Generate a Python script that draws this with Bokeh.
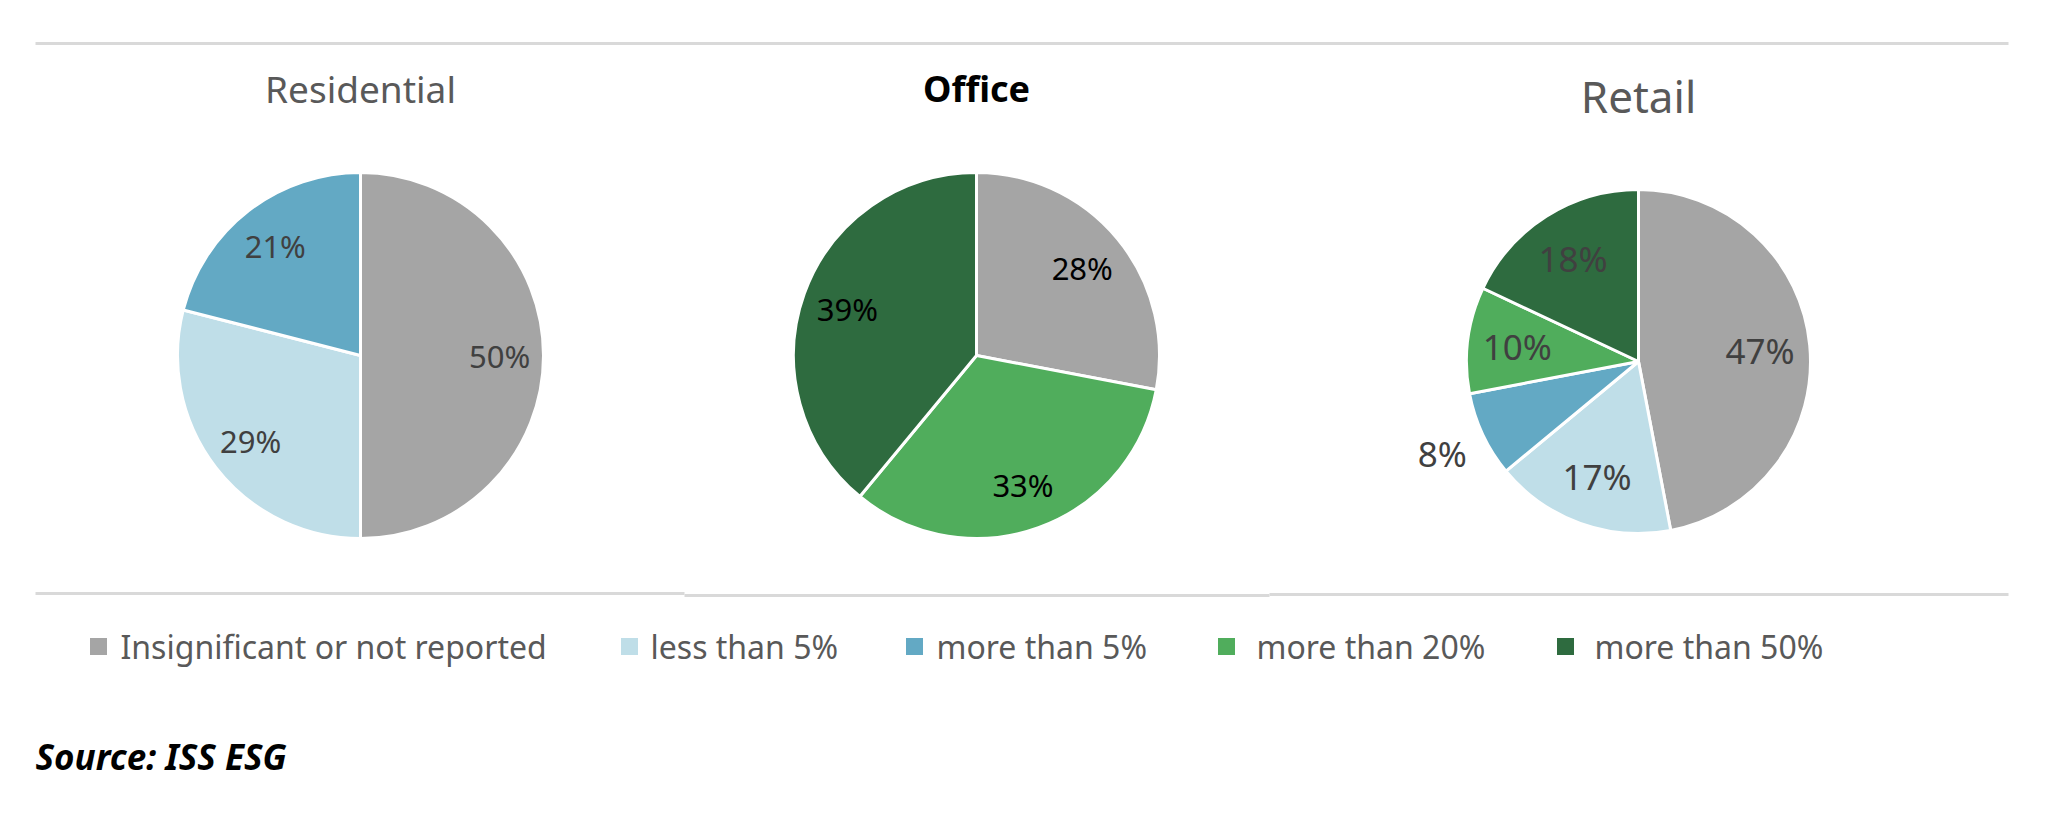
import math
from bokeh.plotting import figure
from bokeh.models import Range1d, ColumnDataSource
from bokeh.core.properties import value
from bokeh.embed import file_html
from bokeh.resources import INLINE

# ---------------- data ----------------
categories = ["Insignificant or not reported", "less than 5%", "more than 5%",
              "more than 20%", "more than 50%"]
colors = ["#a5a5a5", "#bfdee8", "#63a9c4", "#50ad5c", "#2e6b3f"]
chart_titles = ["Residential", "Office", "Retail"]
residential = [50, 29, 21, 0, 0]
office = [28, 0, 0, 33, 39]
retail = [47, 17, 8, 10, 18]
source_text = "Source: ISS ESG"

# ---------------- layout ----------------
W, H = 2048, 830
FONT = "Noto Sans"

def Y(ypx):
    return H - ypx

panels = [
    dict(title=chart_titles[0], values=residential, cx=360, cy=355, r=183,
         ty=88, tsize="37px", tstyle="normal", tcolor="#595959",
         lsize="31px", lcolor="#404040", lfrac=0.76),
    dict(title=chart_titles[1], values=office, cx=976, cy=355, r=183,
         ty=88, tsize="36px", tstyle="bold", tcolor="#000000",
         lsize="31px", lcolor="#000000", lfrac=0.75),
    dict(title=chart_titles[2], values=retail, cx=1638, cy=361, r=172,
         ty=95, tsize="44px", tstyle="normal", tcolor="#595959",
         lsize="35px", lcolor="#404040", lfrac=0.71),
]

p = figure(width=W, height=H, x_range=Range1d(0, W), y_range=Range1d(0, H),
           output_backend="svg", toolbar_location=None,
           x_axis_location=None, y_axis_location=None, min_border=0)
p.grid.visible = False
p.outline_line_color = None
p.background_fill_color = "white"
p.border_fill_color = "white"

# separator lines
line_col = "#d9d9d9"
p.segment(x0=[35], y0=[Y(43)], x1=[2008], y1=[Y(43)], line_color=line_col, line_width=3)
p.segment(x0=[35, 684, 1269], y0=[Y(593), Y(595), Y(594)],
          x1=[684, 1269, 2008], y1=[Y(593), Y(595), Y(594)],
          line_color=line_col, line_width=3)

for pan in panels:
    vals = pan["values"]
    total = float(sum(vals))
    starts, ends, cols, lx, ly, ltxt = [], [], [], [], [], []
    acc = 0.0
    for v, c in zip(vals, colors):
        if v <= 0:
            continue
        t1 = acc / total * 360.0
        t2 = (acc + v) / total * 360.0
        acc += v
        starts.append(math.radians(90 - t1))
        ends.append(math.radians(90 - t2))
        cols.append(c)
        mid = math.radians((t1 + t2) / 2.0)
        frac = pan["lfrac"] if v >= 9 else 1.26
        lx.append(pan["cx"] + frac * pan["r"] * math.sin(mid))
        ly.append(Y(pan["cy"]) + frac * pan["r"] * math.cos(mid))
        ltxt.append(f"{v}%")
    src = ColumnDataSource(dict(x=[pan["cx"]] * len(cols), y=[Y(pan["cy"])] * len(cols),
                                s=starts, e=ends, c=cols))
    p.wedge(x="x", y="y", radius=pan["r"], start_angle="s", end_angle="e",
            direction="clock", fill_color="c", line_color="white", line_width=3,
            source=src)
    p.text(x=lx, y=ly, text=ltxt, text_align="center", text_baseline="middle",
           text_font=value(FONT), text_font_size=pan["lsize"], text_color=pan["lcolor"])
    p.text(x=[pan["cx"]], y=[Y(pan["ty"])], text=[pan["title"]],
           text_align="center", text_baseline="middle", text_font=value(FONT),
           text_font_size=pan["tsize"], text_font_style=pan["tstyle"],
           text_color=pan["tcolor"])

# legend
leg_sq_x = [98, 629, 914, 1226, 1565]
leg_tx_x = [120, 650, 936, 1256, 1594]
leg_y = Y(646)
p.rect(x=leg_sq_x, y=[leg_y] * 5, width=17, height=17, fill_color=colors, line_color=None)
p.text(x=leg_tx_x, y=[leg_y] * 5, text=categories, text_align="left",
       text_baseline="middle", text_font=value(FONT), text_font_size="32px",
       text_color="#595959")

# source
p.text(x=[35], y=[Y(756)], text=[source_text], text_align="left", text_baseline="middle",
       text_font=value(FONT), text_font_size="35px", text_font_style="bold italic",
       text_color="#000000")

open("out.html", "w").write(file_html(p, INLINE))
